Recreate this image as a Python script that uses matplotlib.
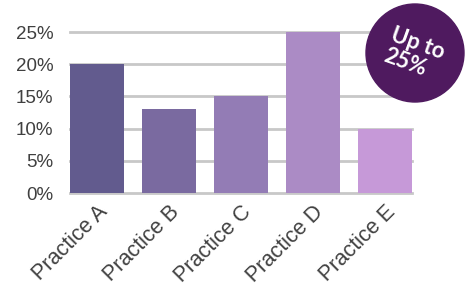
import matplotlib
matplotlib.use("Agg")
import matplotlib.pyplot as plt
from matplotlib.patches import Ellipse

categories = ["Practice A", "Practice B", "Practice C", "Practice D", "Practice E"]
values = [20, 13, 15, 25, 10]
colors = ["#625b8e", "#7a6aa0", "#937cb5", "#ab8bc5", "#c699d8"]
yticks = [0, 5, 10, 15, 20, 25]
ytick_labels = ["0%", "5%", "10%", "15%", "20%", "25%"]
badge_text = "Up to\n25%"

plt.rcParams["font.family"] = ["Liberation Sans", "DejaVu Sans"]

fig = plt.figure(figsize=(4.69, 2.87), dpi=100)
ax = fig.add_axes([0.149, 0.3275, 0.729, 0.561])

x = range(len(categories))
ax.bar(x, values, width=0.75, color=colors, zorder=3)

ax.set_xlim(-0.375, len(categories) - 0.625)
ax.set_ylim(0, 25)
ax.set_yticks(yticks)
ax.set_yticklabels(ytick_labels)
ax.set_xticks(list(x))
ax.set_xticklabels(categories, rotation=45, ha="right", va="top",
                   rotation_mode="anchor", fontsize=15.5)

for y in yticks:
    ax.axhline(y, color="#c8c8c8", lw=2, zorder=1, clip_on=False)

for s in ax.spines.values():
    s.set_visible(False)
ax.tick_params(axis="both", length=0, labelcolor="#404040")
ax.tick_params(axis="y", pad=12, labelsize=13.5)
ax.tick_params(axis="x", pad=6)

# badge
cx, cy, r = 415 / 469, 1 - 53 / 287, 49
badge = Ellipse((cx, cy), 2 * r / 469, 2 * r / 287, transform=fig.transFigure,
                color="#4f1a5f", zorder=5)
fig.add_artist(badge)
fig.text(414 / 469, 1 - 54 / 287, badge_text, color="white", fontsize=16,
         fontweight="bold", family=["Lato", "DejaVu Sans"], rotation=-20,
         ha="center", va="center", multialignment="left",
         linespacing=1.1, zorder=6)

fig.savefig("out.png", dpi=100)
